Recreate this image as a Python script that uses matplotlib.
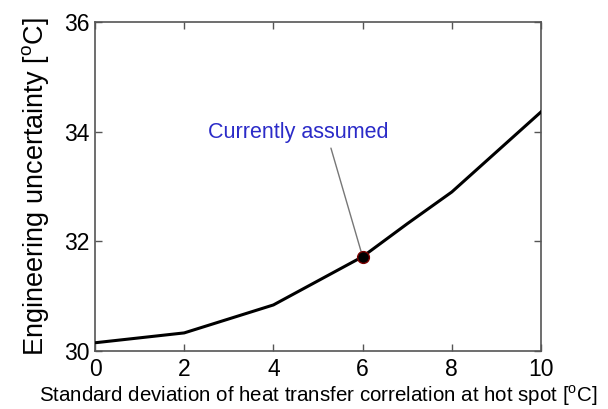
import matplotlib
matplotlib.use('Agg')
import matplotlib.pyplot as plt

plt.rcParams['font.family'] = ['Liberation Sans', 'DejaVu Sans']
plt.rcParams['mathtext.fontset'] = 'custom'
plt.rcParams['mathtext.rm'] = 'Liberation Sans'

# standard deviation of heat transfer correlation [C]
std_dev = [0, 2, 4, 6, 7, 8, 10]
# engineering uncertainty [C]
uncert = [30.15, 30.33, 30.84, 31.72, 32.32, 32.90, 34.36]

assumed_x = 6
assumed_y = 31.72
note_text = "Currently assumed"

fig = plt.figure(figsize=(6.08, 4.09), dpi=100)
ax = fig.add_axes([95/608, 1-351/409, 446/608, 329/409])

ax.plot(std_dev, uncert, color='black', lw=2.2, zorder=3)
ax.plot([assumed_x], [assumed_y], 'o', color='black', mec='#7a0000', ms=8.5, zorder=4)

# label and leader line
ax.text(4.55, 33.98, note_text, ha='center', va='center', color='#2b2bc8', fontsize=15.5)
ax.annotate('', xy=(assumed_x, assumed_y), xytext=(5.29, 33.70),
            arrowprops=dict(arrowstyle='-', color='#777777', lw=1,
                            shrinkA=0, shrinkB=3))

ax.set_xlim(0, 10)
ax.set_ylim(30, 36)
ax.set_xticks([0, 2, 4, 6, 8, 10])
ax.set_yticks([30, 32, 34, 36])
ax.tick_params(direction='in', top=True, right=True, length=5, width=1,
               color='#555555', labelsize=16.5)
ax.tick_params(axis='x', pad=5)
ax.tick_params(axis='y', pad=4)
for sp in ax.spines.values():
    sp.set_color('#555555')
    sp.set_linewidth(1.2)

ax.set_xlabel(r'Standard deviation of heat transfer correlation at hot spot [$^\mathrm{o}$C]',
              fontsize=14.8, labelpad=2)
ax.set_ylabel(r'Engineering uncertainty [$^\mathrm{o}$C]', fontsize=19.5, labelpad=9)

fig.savefig('out.png', dpi=100)
